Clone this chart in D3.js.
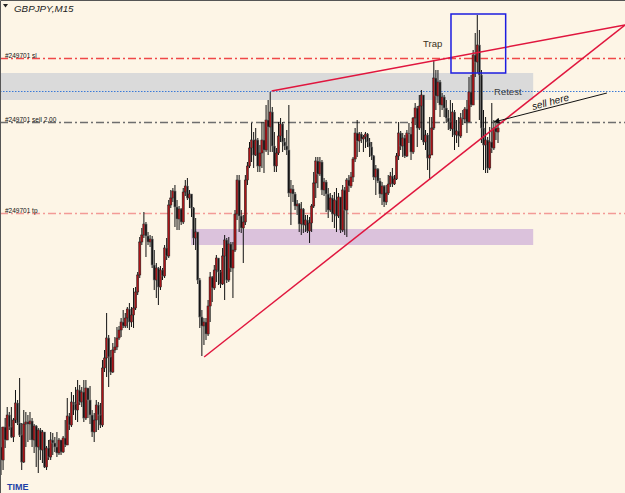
<!DOCTYPE html>
<html>
<head>
<meta charset="utf-8">
<script src="https://cdn.jsdelivr.net/npm/d3@7"></script>
<style>
  html, body { margin: 0; padding: 0; background: #fdf5e6; }
  svg { display: block; }
</style>
</head>
<body>
<svg id="chart" width="625" height="493"></svg>
<script>
// GBPJPY M15 - prices kept in points above an arbitrary base
// open of each candle = close of the one before

const startOpen = 53;

const highs = [
  73, 73, 82, 93, 88, 93, 82, 110, 100, 122,
  77, 90, 88, 85, 88, 82, 76, 75, 72, 72,
  70, 68, 54, 60, 68, 67, 63, 68, 62, 60,
  64, 80, 102, 87, 108, 105, 113, 120, 115, 113,
  120, 120, 110, 114, 90, 87, 100, 98, 97, 140,
  150, 187, 165, 150, 157, 163, 173, 174, 182, 190,
  187, 193, 197, 193, 212, 213, 228, 263, 272, 288,
  278, 268, 265, 264, 250, 237, 233, 234, 232, 255,
  262, 300, 310, 312, 315, 300, 294, 292, 312, 320,
  322, 310, 305, 293, 282, 268, 222, 190, 182, 182,
  200, 228, 224, 235, 245, 242, 230, 252, 265, 262,
  263, 258, 258, 290, 325, 325, 290, 285, 325, 338,
  358, 377, 368, 372, 362, 355, 378, 378, 395, 400,
  408, 393, 368, 352, 378, 382, 378, 362, 370, 395,
  320, 315, 308, 300, 297, 298, 292, 285, 285, 283,
  296, 328, 343, 343, 343, 340, 322, 320, 312, 307,
  305, 308, 312, 307, 303, 315, 313, 322, 325, 328,
  343, 372, 380, 368, 368, 365, 368, 367, 362, 358,
  345, 335, 332, 322, 318, 315, 315, 325, 328, 332,
  325, 347, 378, 369, 367, 365, 370, 377, 373, 383,
  397, 394, 405, 410, 405, 370, 367, 383, 383, 440,
  430, 430, 420, 407, 405, 400, 390, 400, 397, 390,
  380, 383, 387, 390, 393, 400, 423, 425, 450, 467,
  485, 470, 430, 390, 383, 363, 373, 397, 380, 377,
  377
];

const lows = [
  25, 30, 52, 60, 70, 62, 58, 77, 75, 63,
  30, 37, 53, 58, 60, 53, 47, 33, 27, 40,
  37, 32, 30, 40, 40, 45, 48, 43, 45, 45,
  47, 53, 55, 70, 73, 85, 80, 78, 95, 93,
  78, 80, 82, 76, 63, 58, 68, 70, 72, 73,
  128, 123, 113, 125, 127, 147, 150, 160, 163, 172,
  172, 172, 170, 173, 172, 190, 205, 222, 255, 262,
  243, 255, 253, 232, 210, 202, 195, 210, 220, 222,
  240, 242, 292, 298, 273, 270, 270, 275, 276, 304,
  300, 292, 283, 255, 250, 216, 172, 144, 155, 160,
  164, 178, 198, 210, 218, 215, 212, 215, 200, 217,
  218, 228, 202, 248, 280, 268, 267, 237, 275, 315,
  332, 338, 332, 344, 328, 328, 332, 327, 348, 345,
  348, 348, 328, 328, 345, 358, 348, 350, 345, 303,
  275, 298, 290, 285, 268, 265, 267, 268, 267, 257,
  268, 292, 302, 312, 324, 305, 304, 288, 282, 288,
  278, 272, 268, 282, 267, 268, 265, 263, 308, 312,
  318, 338, 343, 348, 357, 348, 352, 353, 343, 340,
  320, 305, 317, 302, 295, 293, 295, 305, 313, 313,
  315, 320, 340, 350, 343, 342, 343, 357, 340, 346,
  375, 353, 370, 360, 355, 350, 330, 320, 345, 370,
  390, 397, 383, 390, 383, 377, 370, 369, 363, 350,
  357, 353, 362, 375, 377, 367, 378, 393, 395, 423,
  427, 380, 357, 330, 327, 327, 330, 347, 350, 360,
  357
];

const closes = [
  40, 73, 60, 85, 73, 63, 80, 97, 77, 65,
  38, 76, 78, 76, 79, 60, 74, 53, 70, 50,
  68, 33, 52, 43, 60, 57, 53, 47, 60, 48,
  62, 55, 84, 75, 98, 96, 90, 110, 98, 108,
  82, 112, 100, 85, 68, 80, 95, 85, 75, 132,
  142, 162, 143, 128, 150, 153, 162, 170, 178, 174,
  182, 191, 178, 185, 192, 208, 225, 258, 265, 276,
  264, 258, 261, 235, 220, 232, 213, 230, 224, 252,
  244, 295, 302, 309, 293, 281, 291, 278, 308, 314,
  302, 306, 292, 262, 268, 220, 183, 174, 178, 166,
  194, 223, 212, 230, 242, 228, 216, 244, 260, 220,
  256, 232, 250, 286, 320, 284, 272, 278, 320, 334,
  352, 360, 345, 360, 334, 347, 360, 350, 380, 373,
  388, 354, 334, 347, 364, 376, 358, 354, 350, 307,
  311, 306, 294, 296, 276, 291, 275, 280, 269, 277,
  294, 317, 339, 326, 338, 310, 318, 306, 290, 302,
  286, 300, 284, 303, 270, 310, 290, 320, 314, 323,
  341, 367, 359, 366, 361, 363, 366, 358, 353, 344,
  323, 331, 319, 306, 314, 298, 307, 316, 324, 316,
  321, 344, 367, 354, 362, 344, 367, 366, 348, 382,
  392, 372, 394, 405, 358, 365, 342, 345, 372, 422,
  404, 418, 395, 403, 392, 382, 378, 371, 388, 365,
  369, 364, 382, 381, 391, 378, 408, 395, 445, 438,
  455, 425, 372, 355, 360, 332, 358, 352, 372, 368,
  372
];

// order levels drawn by the terminal
const levelLabels = ["#249701 sl", "#249701 sell 2.00", "#249701 tp"];
const levelPrices = [442, 378, 287];
const levelColors = ["#f04848", "#6e6e6e", "#f39a96"];
const retestPrice = 409;

// zones: [fromBar, toBar, topPrice, bottomPrice]
const greyZone = [-2, 257, 427, 400];
const purpleZone = [91.8, 257, 271, 255];
const trapBox = [217.3, 243.7, 486, 427];

// trend lines: [bar, price] pairs
const supportLine = [[98.1, 143], [301.3, 475]];
const resistanceLine = [[130.7, 409], [301.3, 475]];

// annotations
const arrowFrom = [292.6, 407];
const arrowTo = [238.1, 378];

const W = 625, H = 493;
const svg = d3.select("#chart");
const n = closes.length;

const x = d3.scaleLinear().domain([0, n - 1]).range([1, 498]);
const y = d3.scaleLinear().domain([7, 500]).range([493, 0]);

const candles = closes.map((c, i) => {
  const o = i ? closes[i - 1] : startOpen;
  return { i, o, c, h: Math.max(highs[i], o, c), l: Math.min(lows[i], o, c) };
});

svg.append("rect").attr("width", W).attr("height", H).attr("fill", "#fdf5e6");

// zones
[[greyZone, "#dadada"], [purpleZone, "#dbc2dc"]].forEach(([z, col]) => {
  svg.append("rect")
    .attr("x", x(z[0])).attr("y", y(z[2]))
    .attr("width", x(z[1]) - x(z[0])).attr("height", y(z[3]) - y(z[2]))
    .attr("fill", col);
});

// blue dotted line
svg.append("line")
  .attr("x1", 0).attr("x2", W)
  .attr("y1", Math.round(y(retestPrice)) + 0.5).attr("y2", Math.round(y(retestPrice)) + 0.5)
  .attr("stroke", "#3a7ad8").attr("stroke-width", 1).attr("stroke-dasharray", "1.5,1.5");

// order lines
levelPrices.forEach((p, k) => {
  const yy = Math.round(y(p)) + 0.5;
  svg.append("line")
    .attr("x1", 0).attr("x2", W).attr("y1", yy).attr("y2", yy)
    .attr("stroke", levelColors[k]).attr("stroke-width", k === 2 ? 1.7 : 1.3)
    .attr("stroke-dasharray", "8,3,2,3");
  svg.append("text")
    .attr("x", 5).attr("y", yy - 1)
    .attr("font-family", "Liberation Sans, Arial, sans-serif")
    .attr("font-size", 6.5).attr("fill", "#111")
    .text(levelLabels[k]);
});

// candles
const g = svg.append("g");
g.selectAll("line.wick").data(candles).join("line")
  .attr("class", "wick")
  .attr("x1", d => x(d.i)).attr("x2", d => x(d.i))
  .attr("y1", d => y(d.h)).attr("y2", d => y(d.l))
  .attr("stroke", "#111").attr("stroke-width", 1);

g.selectAll("rect.body").data(candles).join("rect")
  .attr("class", "body")
  .attr("x", d => x(d.i) - 1.1)
  .attr("width", 2.2)
  .attr("y", d => y(Math.max(d.o, d.c)))
  .attr("height", d => Math.max(1, Math.abs(y(d.o) - y(d.c))))
  .attr("fill", d => d.c > d.o ? "#a81418" : "#151515")
  .attr("stroke", d => d.c > d.o ? "#222" : "#7d7d7d")
  .attr("stroke-width", 0.5);

// trend lines
const line = d3.line().x(d => x(d[0])).y(d => y(d[1]));
[supportLine, resistanceLine].forEach(l => {
  svg.append("path").attr("d", line(l))
    .attr("fill", "none").attr("stroke", "#e0163e").attr("stroke-width", 1.5);
});

// trap box
svg.append("rect")
  .attr("x", x(trapBox[0])).attr("y", y(trapBox[2]))
  .attr("width", x(trapBox[1]) - x(trapBox[0]))
  .attr("height", y(trapBox[3]) - y(trapBox[2]))
  .attr("fill", "none").attr("stroke", "#1c1ce0").attr("stroke-width", 1.5);

// texts
const font = "Liberation Sans, Arial, sans-serif";
svg.append("text").attr("x", x(203.8)).attr("y", y(453))
  .attr("font-family", font).attr("font-size", 9.5).attr("fill", "#3a3020")
  .text("Trap");
svg.append("text").attr("x", x(238.1)).attr("y", y(405))
  .attr("font-family", font).attr("font-size", 9.5).attr("fill", "#3e3e3e")
  .text("Retest");
svg.append("text")
  .attr("transform", `translate(${x(256.9)},${y(390)}) rotate(-15)`)
  .attr("font-family", font).attr("font-size", 10).attr("font-style", "italic")
  .attr("fill", "#111")
  .text("sell here");

// arrow
svg.append("defs").append("marker")
  .attr("id", "head").attr("viewBox", "0 0 10 10")
  .attr("refX", 9).attr("refY", 5)
  .attr("markerWidth", 7).attr("markerHeight", 6)
  .attr("orient", "auto")
  .append("path").attr("d", "M0,0L10,5L0,10z").attr("fill", "#111");
svg.append("line")
  .attr("x1", x(arrowFrom[0])).attr("y1", y(arrowFrom[1]))
  .attr("x2", x(arrowTo[0])).attr("y2", y(arrowTo[1]))
  .attr("stroke", "#111").attr("stroke-width", 1)
  .attr("marker-end", "url(#head)");

// title
svg.append("path").attr("d", "M3,4L8,4L5.5,7.5Z").attr("fill", "#222");
svg.append("text").attr("x", 14).attr("y", 12)
  .attr("font-family", font).attr("font-size", 9.8).attr("font-style", "italic")
  .attr("fill", "#222").text("GBPJPY,M15");

svg.append("text").attr("x", 7).attr("y", 490)
  .attr("font-family", font).attr("font-size", 9).attr("font-weight", "bold")
  .attr("fill", "#1f3fa6")
  .text("TIME");

// frame
svg.append("path").attr("d", `M0.5,${H}L0.5,0.5L${W},0.5`)
  .attr("fill", "none").attr("stroke", "#555").attr("stroke-width", 1);
</script>
</body>
</html>
